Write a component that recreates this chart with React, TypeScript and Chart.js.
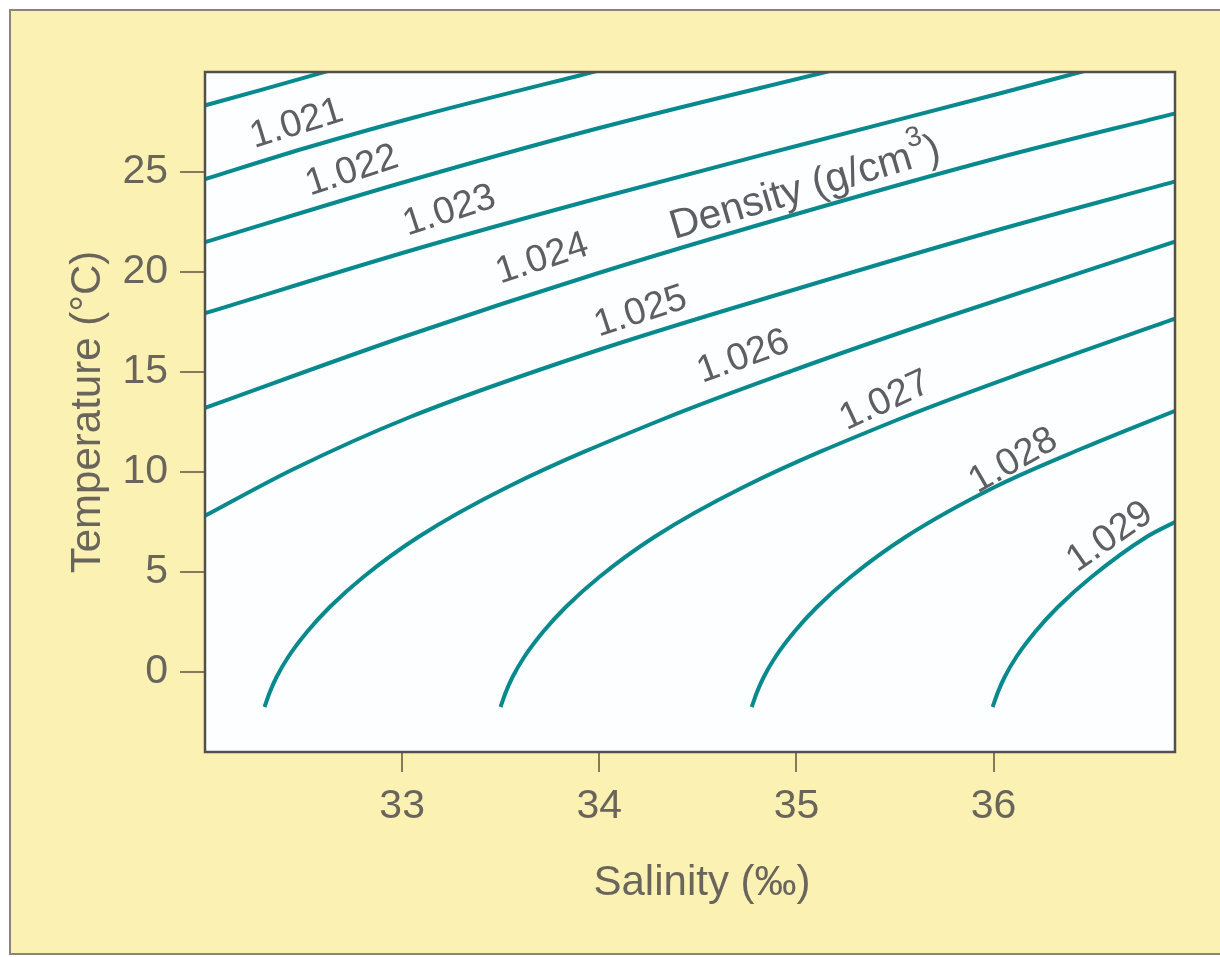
import React, { useEffect, useRef } from 'react';
import { Chart, registerables } from 'chart.js';

Chart.register(...registerables);

// Isopycnal curves: salinity (‰) and temperature (°C)
const densityLevels = ['1.020', '1.021', '1.022', '1.023', '1.024', '1.025', '1.026', '1.027', '1.028', '1.029'];

const sal1020 = [31.97, 32.29, 32.66];
const temp1020 = [28.25, 29.12, 30.15];

const sal1021 = [31.97, 32.51, 33.07, 34.05];
const temp1021 = [24.55, 26.2, 27.75, 30.2];

const sal1022 = [31.97, 32.96, 33.98, 35.21];
const temp1022 = [21.4, 24.35, 27.15, 30.15];

const sal1023 = [31.97, 33.07, 33.98, 35.0, 36.02, 36.48];
const temp1023 = [17.85, 21.15, 23.65, 26.3, 28.9, 30.1];

const sal1024 = [31.97, 33.02, 33.98, 35.0, 36.02, 36.93];
const temp1024 = [13.1, 16.8, 19.9, 22.9, 25.7, 27.95];

const sal1025 = [31.97, 32.45, 33.04, 33.98, 35.0, 36.02, 36.93];
const temp1025 = [7.65, 10.15, 12.75, 16.05, 19.15, 22.1, 24.55];

const sal1026 = [32.302, 32.329, 32.363, 32.422, 32.517, 32.633, 32.803, 33.082, 33.535, 34.325, 35.002, 35.731, 36.93];
const temp1026 = [-1.75, -1.0, -0.25, 0.75, 2.0, 3.25, 4.75, 6.75, 9.25, 12.65, 15.15, 17.65, 21.55];

const sal1027 = [33.499, 33.526, 33.56, 33.619, 33.714, 33.83, 34.0, 34.279, 34.732, 35.522, 36.199, 36.93];
const temp1027 = [-1.75, -1.0, -0.25, 0.75, 2.0, 3.25, 4.75, 6.75, 9.25, 12.65, 15.15, 17.7];

const sal1028 = [34.773, 34.8, 34.834, 34.893, 34.988, 35.104, 35.274, 35.553, 36.006, 36.454, 36.93];
const temp1028 = [-1.75, -1.0, -0.25, 0.75, 2.0, 3.25, 4.75, 6.75, 9.25, 11.2, 13.1];

const sal1029 = [35.995, 36.022, 36.056, 36.115, 36.21, 36.326, 36.496, 36.775, 36.93];
const temp1029 = [-1.75, -1.0, -0.25, 0.75, 2.0, 3.25, 4.75, 6.75, 7.55];

const salinitySeries = [sal1020, sal1021, sal1022, sal1023, sal1024, sal1025, sal1026, sal1027, sal1028, sal1029];
const temperatureSeries = [temp1020, temp1021, temp1022, temp1023, temp1024, temp1025, temp1026, temp1027, temp1028, temp1029];

const xTicks = [33, 34, 35, 36];
const yTicks = [0, 5, 10, 15, 20, 25];

// Contour labels (text, anchor salinity, anchor temperature)
const labelTexts = ['1.021', '1.022', '1.023', '1.024', '1.025', '1.026', '1.027', '1.028', '1.029'];
const labelSal = [32.465, 32.745, 33.24, 33.71, 34.21, 34.73, 35.45, 36.1, 36.59];
const labelTemp = [27.4, 25.05, 23.05, 20.65, 18.0, 15.75, 13.55, 10.55, 6.75];
const labelAngles = [17, 18, 18, 18, 18, 20, 25, 30, 35];

const densityTitle = 'Density (g/cm';
const densityTitleSal = 35.04;
const densityTitleTemp = 24.3;

const FONT = "'Liberation Sans', Arial, Helvetica, sans-serif";
const TEXT = '#6a655c';
const TICK = '#857a5e';
const TEAL = '#08898e';

const framePlugin = {
  id: 'frame',
  beforeDraw(chart: any) {
    const { ctx, width, height, chartArea } = chart;
    ctx.save();
    ctx.fillStyle = '#ffffff';
    ctx.fillRect(0, 0, width, height);
    ctx.fillStyle = '#fbf1b2';
    ctx.fillRect(10, 10, width - 10, height - 12);
    ctx.strokeStyle = '#8c8474';
    ctx.lineWidth = 2;
    ctx.strokeRect(10, 10, width + 10, height - 13);
    ctx.fillStyle = '#fcfeff';
    ctx.fillRect(chartArea.left, chartArea.top, chartArea.right - chartArea.left, chartArea.bottom - chartArea.top);
    ctx.restore();
  },
  afterDatasetsDraw(chart: any) {
    const { ctx, chartArea, scales } = chart;
    ctx.save();
    ctx.strokeStyle = '#505050';
    ctx.lineWidth = 2.5;
    ctx.strokeRect(chartArea.left, chartArea.top, chartArea.right - chartArea.left, chartArea.bottom - chartArea.top);

    ctx.fillStyle = '#5e5e64';
    ctx.textAlign = 'center';
    ctx.textBaseline = 'middle';
    ctx.font = `38px ${FONT}`;
    labelTexts.forEach((t, i) => {
      const px = scales.x.getPixelForValue(labelSal[i]);
      const py = scales.y.getPixelForValue(labelTemp[i]);
      ctx.save();
      ctx.translate(px, py);
      ctx.rotate((-labelAngles[i] * Math.PI) / 180);
      ctx.fillText(t, 0, 0);
      ctx.restore();
    });

    // "Density (g/cm³)" with superscript
    const px = scales.x.getPixelForValue(densityTitleSal);
    const py = scales.y.getPixelForValue(densityTitleTemp);
    ctx.save();
    ctx.translate(px, py);
    ctx.rotate((-16.5 * Math.PI) / 180);
    ctx.font = `41px ${FONT}`;
    const w1 = ctx.measureText(densityTitle).width;
    const w3 = ctx.measureText(')').width;
    ctx.font = `28px ${FONT}`;
    const w2 = ctx.measureText('3').width;
    const total = w1 + w2 + w3;
    let x0 = -total / 2;
    ctx.textAlign = 'left';
    ctx.textBaseline = 'alphabetic';
    ctx.font = `41px ${FONT}`;
    ctx.fillText(densityTitle, x0, 14);
    x0 += w1;
    ctx.font = `28px ${FONT}`;
    ctx.fillText('3', x0, -7);
    x0 += w2;
    ctx.font = `41px ${FONT}`;
    ctx.fillText(')', x0, 14);
    ctx.restore();

    // x axis title
    ctx.fillStyle = TEXT;
    ctx.font = `42px ${FONT}`;
    ctx.textAlign = 'center';
    ctx.textBaseline = 'middle';
    ctx.fillText('Salinity (‰)', 702, 883);
    ctx.restore();
  },
};

export default function App() {
  const ref = useRef<HTMLCanvasElement>(null);
  useEffect(() => {
    document.body.style.margin = '0';
    const canvas = ref.current;
    if (!canvas) return;
    const datasets = salinitySeries.map((s, i) => ({
      label: densityLevels[i],
      data: s.map((v, j) => ({ x: v, y: temperatureSeries[i][j] })),
      borderColor: TEAL,
      borderWidth: 4,
      pointRadius: 0,
      cubicInterpolationMode: 'monotone' as const,
      fill: false,
    }));
    const chart = new Chart(canvas, {
      type: 'line',
      data: { datasets },
      plugins: [framePlugin],
      options: {
        animation: false,
        responsive: true,
        maintainAspectRatio: false,
        layout: { padding: { left: 0, right: 45, top: 72, bottom: 0 } },
        plugins: { legend: { display: false }, tooltip: { enabled: false } },
        scales: {
          x: {
            type: 'linear',
            min: 32,
            max: 36.92,
            afterBuildTicks: (s: any) => {
              s.ticks = xTicks.map((v) => ({ value: v }));
            },
            afterFit: (s: any) => {
              s.height = 205;
            },
            grid: { display: true, drawOnChartArea: false, drawTicks: true, tickLength: 20, color: TICK, lineWidth: 2 },
            border: { display: false },
            ticks: {
              color: TEXT,
              font: { family: FONT, size: 41 },
              padding: 10,
              maxRotation: 0,
              autoSkip: false,
              callback: (v: any) => String(v),
            },
            title: { display: false, text: 'Salinity (‰)' },
          },
          y: {
            type: 'linear',
            min: -4,
            max: 30,
            afterBuildTicks: (s: any) => {
              s.ticks = yTicks.map((v) => ({ value: v }));
            },
            afterFit: (s: any) => {
              s.width = 205;
            },
            grid: { display: true, drawOnChartArea: false, drawTicks: true, tickLength: 25, color: TICK, lineWidth: 2 },
            border: { display: false },
            ticks: {
              color: TEXT,
              font: { family: FONT, size: 41 },
              padding: 12,
              autoSkip: false,
              callback: (v: any) => String(v),
            },
            title: {
              display: true,
              text: 'Temperature (°C)',
              color: TEXT,
              font: { family: FONT, size: 42 },
              padding: { top: 63, bottom: 0 },
            },
          },
        },
      },
    });
    return () => chart.destroy();
  }, []);
  return (
    <div style={{ position: 'fixed', left: 0, top: 0, width: 1220, height: 957 }}>
      <canvas ref={ref} />
    </div>
  );
}
